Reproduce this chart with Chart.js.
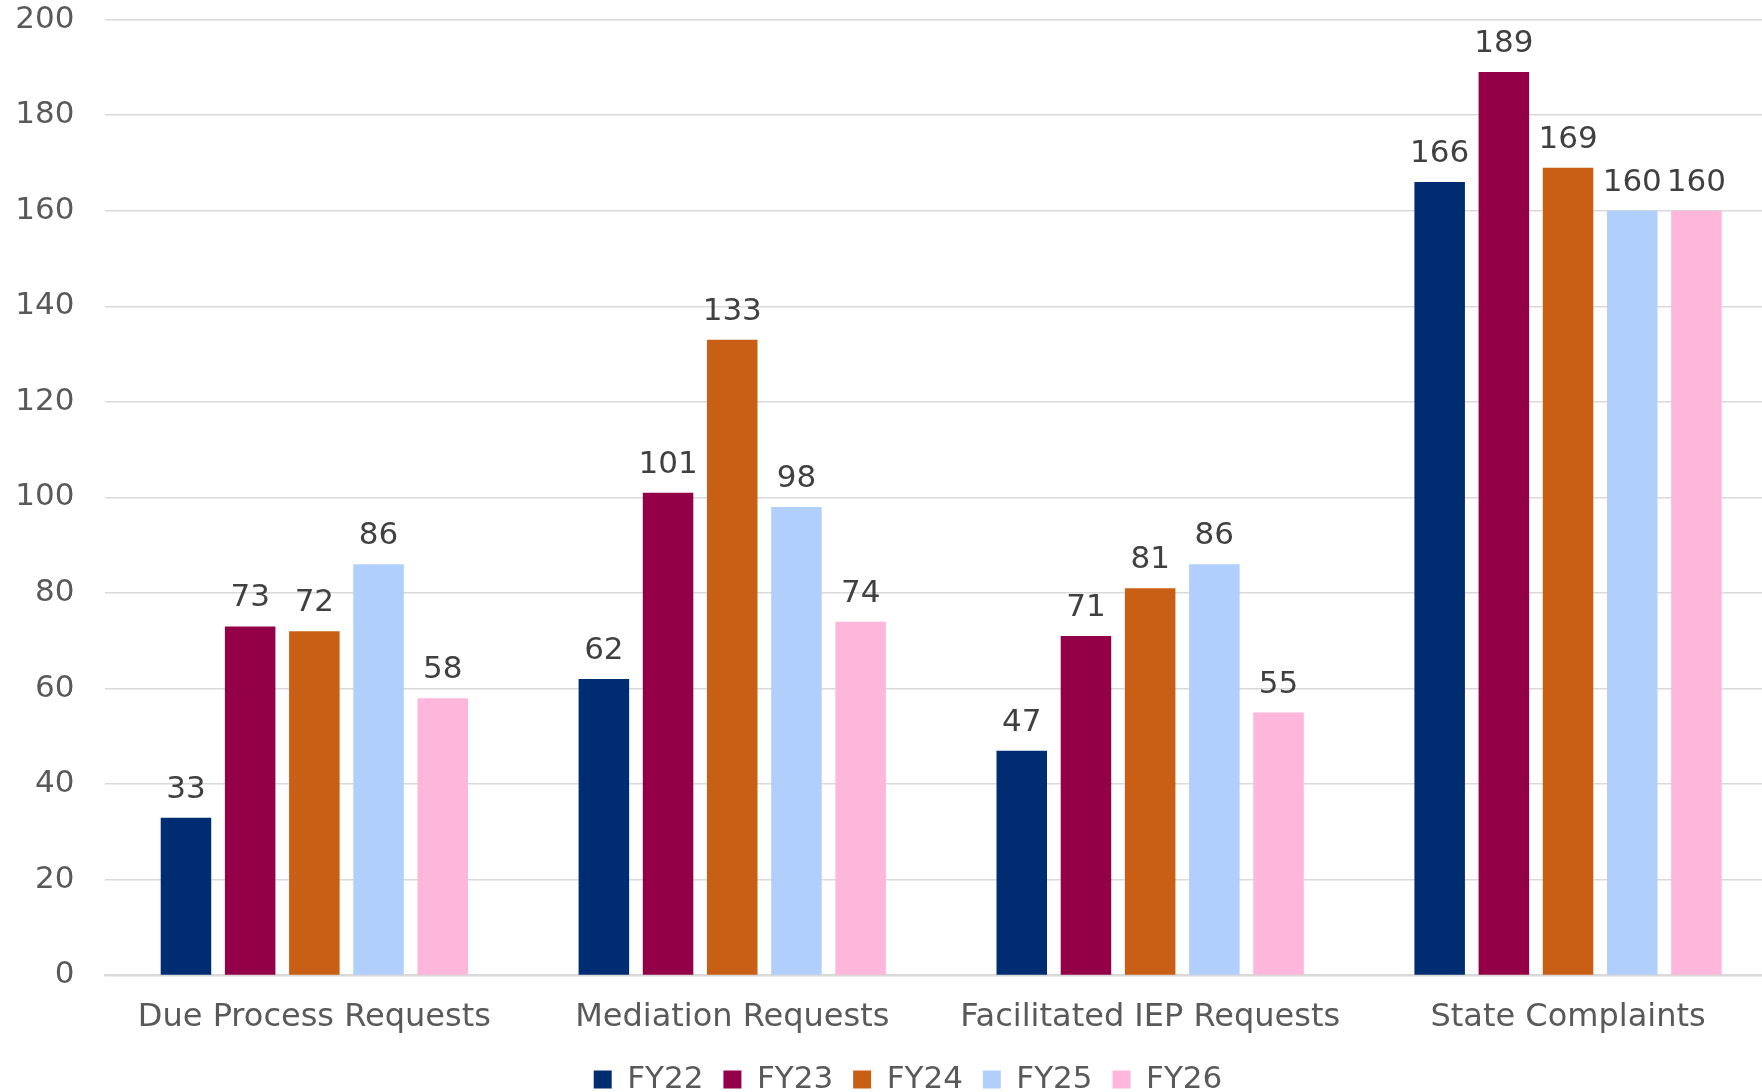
<!DOCTYPE html>
<html>
<head>
<meta charset="utf-8">
<script src="https://cdn.jsdelivr.net/npm/chart.js@4"></script>
<style>
  html, body { margin: 0; padding: 0; background: #fff; overflow: hidden; }
  canvas { display: block; }
</style>
</head>
<body>
<canvas id="chart" width="1777" height="1105"></canvas>
<script>
// Chart data
const categories = ['Due Process Requests', 'Mediation Requests', 'Facilitated IEP Requests', 'State Complaints'];
const seriesNames = ['FY22', 'FY23', 'FY24', 'FY25', 'FY26'];
const fy22 = [33, 62, 47, 166];
const fy23 = [73, 101, 71, 189];
const fy24 = [72, 133, 81, 169];
const fy25 = [86, 98, 86, 160];
const fy26 = [58, 74, 55, 160];
const yTicks = [0, 20, 40, 60, 80, 100, 120, 140, 160, 180, 200];

// Colours
const seriesColors = ['#002D72', '#930047', '#C95F14', '#B1CFFD', '#FEB6DA'];
const tickColor = '#595959';
const labelColor = '#404040';
const gridColor = '#d9d9d9';
const fontFamily = "'DejaVu Sans', sans-serif";

const seriesValues = [fy22, fy23, fy24, fy25, fy26];

// Value labels above each bar
const barValueLabels = {
    id: 'barValueLabels',
    afterDatasetsDraw(chart) {
        const ctx = chart.ctx;
        ctx.save();
        ctx.font = '31px ' + fontFamily;
        ctx.fillStyle = labelColor;
        ctx.textAlign = 'center';
        ctx.textBaseline = 'alphabetic';
        chart.data.datasets.forEach((ds, i) => {
            const meta = chart.getDatasetMeta(i);
            meta.data.forEach((bar, j) => {
                ctx.fillText(String(ds.data[j]), bar.x, bar.y - 20);
            });
        });
        ctx.restore();
    }
};

// Nudge the legend so it sits where the original one does
const legendShift = {
    id: 'legendShift',
    afterLayout(chart) {
        if (chart.legend) {
            chart.legend.left += 19.5;
            chart.legend.right += 19.5;
        }
    }
};

const ctx = document.getElementById('chart').getContext('2d');
new Chart(ctx, {
    type: 'bar',
    data: {
        labels: categories,
        datasets: seriesNames.map((name, i) => ({
            label: name,
            data: seriesValues[i],
            backgroundColor: seriesColors[i],
            borderWidth: 0,
            categoryPercentage: 0.768,
            barPercentage: 0.787
        }))
    },
    options: {
        responsive: false,
        animation: false,
        layout: { padding: { top: 19.5, left: 0, right: 0, bottom: 0 } },
        plugins: {
            tooltip: { enabled: false },
            legend: {
                position: 'bottom',
                labels: {
                    boxWidth: 18,
                    boxHeight: 18,
                    padding: 20,
                    color: tickColor,
                    font: { family: fontFamily, size: 31 }
                }
            }
        },
        scales: {
            x: {
                grid: { display: false },
                border: { display: true, color: gridColor, width: 2 },
                afterFit: (scale) => { scale.height = scale.height - 7.8; },
                ticks: {
                    color: tickColor,
                    padding: 15,
                    maxRotation: 0,
                    font: { family: fontFamily, size: 32 }
                }
            },
            y: {
                min: 0,
                max: 200,
                afterBuildTicks: (scale) => { scale.ticks = yTicks.map(v => ({ value: v })); },
                afterFit: (scale) => {
                    scale.width = 105.4;
                    scale.paddingTop = 0;
                    scale.paddingBottom = 0;
                },
                grid: { color: gridColor, lineWidth: 1.5, drawTicks: false },
                border: { display: false },
                ticks: {
                    color: tickColor,
                    padding: 31,
                    font: { family: fontFamily, size: 31 }
                }
            }
        }
    },
    plugins: [barValueLabels, legendShift]
});
</script>
</body>
</html>
